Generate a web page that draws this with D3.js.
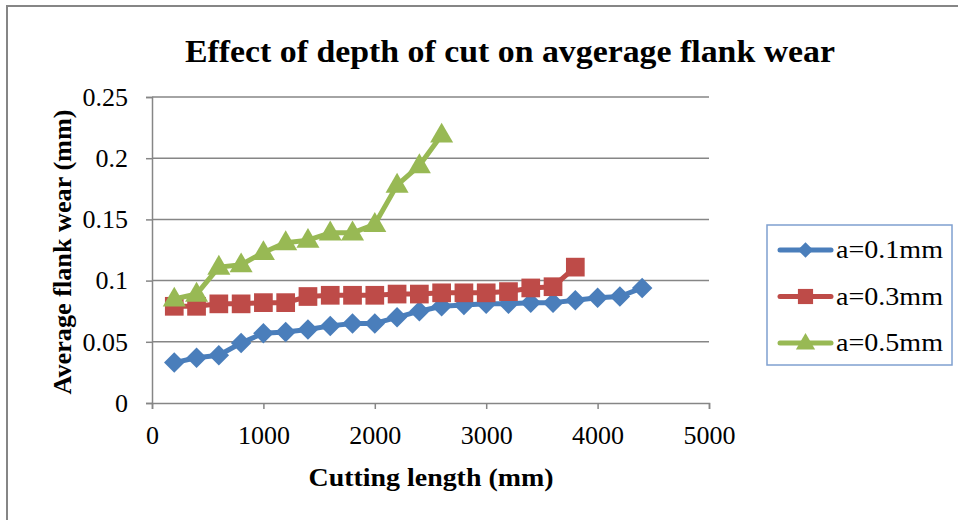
<!DOCTYPE html>
<html>
<head>
<meta charset="utf-8">
<script src="https://cdn.jsdelivr.net/npm/d3@7"></script>
<style>
  html, body { margin: 0; padding: 0; background: #fff; }
  svg { display: block; }
</style>
</head>
<body>
<svg id="chart" width="958" height="520"></svg>
<script>
// Cutting length (mm) for each measurement
const cutLength01 = [200,400,600,800,1000,1200,1400,1600,1800,2000,2200,2400,2600,2800,3000,3200,3400,3600,3800,4000,4200,4400];
const cutLength03 = [200,400,600,800,1000,1200,1400,1600,1800,2000,2200,2400,2600,2800,3000,3200,3400,3600,3800];
const cutLength05 = [200,400,600,800,1000,1200,1400,1600,1800,2000,2200,2400,2600];

// Average flank wear (mm) per depth of cut
const wear01 = [0.033,0.037,0.039,0.049,0.057,0.058,0.060,0.063,0.065,0.065,0.070,0.075,0.079,0.080,0.081,0.081,0.082,0.082,0.084,0.086,0.087,0.094];
const wear03 = [0.079,0.079,0.081,0.081,0.082,0.082,0.087,0.088,0.088,0.088,0.089,0.089,0.090,0.090,0.090,0.091,0.094,0.095,0.111];
const wear05 = [0.085,0.089,0.111,0.113,0.123,0.131,0.133,0.139,0.139,0.146,0.178,0.194,0.219];

const seriesNames = ["a=0.1mm", "a=0.3mm", "a=0.5mm"];
const xTicks = [0,1000,2000,3000,4000,5000];
const yTicks = [0,0.05,0.1,0.15,0.2,0.25];
const yTickLabels = ["0","0.05","0.1","0.15","0.2","0.25"];

const series = [
  { name: seriesNames[0], xs: cutLength01, ys: wear01, color: "#4A7EBB", symbol: d3.symbolSquare, size: 210, rot: 45, legSize: 120, yOff: 0 },
  { name: seriesNames[1], xs: cutLength03, ys: wear03, color: "#BE4B48", symbol: d3.symbolSquare, size: 350, rot: 0, legSize: 230, yOff: 0 },
  { name: seriesNames[2], xs: cutLength05, ys: wear05, color: "#98B954", symbol: d3.symbolTriangle, size: 230, rot: 0, legSize: 160, yOff: 1 }
];

const svg = d3.select("#chart");
const serif = "'Liberation Serif', 'DejaVu Serif', serif";
const gridColor = "#868686";

// outer chart frame
svg.append("rect").attr("x", 7).attr("y", 6).attr("width", 960).attr("height", 530)
  .attr("fill", "none").attr("stroke", gridColor).attr("stroke-width", 2);

const plotLeft = 152, plotRight = 709, plotTop = 97, plotBottom = 403;
const x = d3.scaleLinear().domain([0, 5000]).range([plotLeft, plotRight]);
const y = d3.scaleLinear().domain([0, 0.25]).range([plotBottom, plotTop]);

// horizontal gridlines
svg.append("g").selectAll("line").data(yTicks.slice(1)).join("line")
  .attr("x1", plotLeft).attr("x2", plotRight)
  .attr("y1", d => y(d)).attr("y2", d => y(d))
  .attr("stroke", gridColor).attr("stroke-width", 1.5);

// y axis
const yAxis = d3.axisLeft(y).tickValues(yTicks).tickSize(6).tickPadding(18)
  .tickFormat((d, i) => yTickLabels[i]);
const gy = svg.append("g").attr("transform", `translate(${plotLeft},0)`).call(yAxis);
gy.select(".domain").attr("stroke", gridColor).attr("stroke-width", 1.5);
gy.selectAll(".tick line").attr("stroke", gridColor).attr("stroke-width", 1.5);
gy.selectAll(".tick text").attr("font-family", serif).attr("font-size", 26).attr("fill", "#000");

// x axis
const xAxis = d3.axisBottom(x).tickValues(xTicks).tickSize(6).tickPadding(17)
  .tickFormat(d3.format("d"));
const gx = svg.append("g").attr("transform", `translate(0,${plotBottom})`).call(xAxis);
gx.select(".domain").attr("stroke", gridColor).attr("stroke-width", 1.5);
gx.selectAll(".tick line").attr("stroke", gridColor).attr("stroke-width", 1.5);
gx.selectAll(".tick text").attr("font-family", serif).attr("font-size", 26).attr("fill", "#000");

// series lines and markers
const line = d3.line().x(d => x(d[0])).y(d => y(d[1]));
series.forEach(s => {
  const pts = s.xs.map((v, i) => [v, s.ys[i]]);
  const g = svg.append("g");
  g.append("path").datum(pts).attr("d", line)
    .attr("fill", "none").attr("stroke", s.color).attr("stroke-width", 5)
    .attr("stroke-linejoin", "round").attr("stroke-linecap", "round");
  g.selectAll("path.m").data(pts).join("path").attr("class", "m")
    .attr("transform", d => `translate(${x(d[0])},${y(d[1]) + s.yOff}) rotate(${s.rot})`)
    .attr("d", d3.symbol().type(s.symbol).size(s.size))
    .attr("fill", s.color);
});

// title
svg.append("text").attr("x", 510).attr("y", 62).attr("text-anchor", "middle")
  .attr("font-family", serif).attr("font-weight", "bold").attr("font-size", 32)
  .attr("textLength", 650).attr("lengthAdjust", "spacingAndGlyphs")
  .text("Effect of  depth of cut on avgerage flank wear");

// axis titles
svg.append("text").attr("x", 431).attr("y", 486).attr("text-anchor", "middle")
  .attr("font-family", serif).attr("font-weight", "bold").attr("font-size", 25)
  .attr("textLength", 245).attr("lengthAdjust", "spacingAndGlyphs")
  .text("Cutting length (mm)");
svg.append("text").attr("transform", "translate(71,252) rotate(-90)").attr("text-anchor", "middle")
  .attr("font-family", serif).attr("font-weight", "bold").attr("font-size", 25)
  .attr("textLength", 285).attr("lengthAdjust", "spacingAndGlyphs")
  .text("Average flank wear (mm)");

// legend
const lg = svg.append("g");
lg.append("rect").attr("x", 767).attr("y", 225).attr("width", 185).attr("height", 140)
  .attr("fill", "#fff").attr("stroke", "#7FA0D0").attr("stroke-width", 1.5);
series.forEach((s, i) => {
  const cy = 250 + i * 46.5;
  lg.append("line").attr("x1", 780).attr("x2", 831).attr("y1", cy).attr("y2", cy)
    .attr("stroke", s.color).attr("stroke-width", 5).attr("stroke-linecap", "round");
  lg.append("path").attr("transform", `translate(805.5,${cy + s.yOff}) rotate(${s.rot})`)
    .attr("d", d3.symbol().type(s.symbol).size(s.legSize)).attr("fill", s.color);
  lg.append("text").attr("x", 836).attr("y", cy + 8).attr("font-family", serif)
    .attr("font-size", 25).attr("fill", "#000")
    .attr("textLength", 107).attr("lengthAdjust", "spacingAndGlyphs")
    .text(s.name);
});
</script>
</body>
</html>
